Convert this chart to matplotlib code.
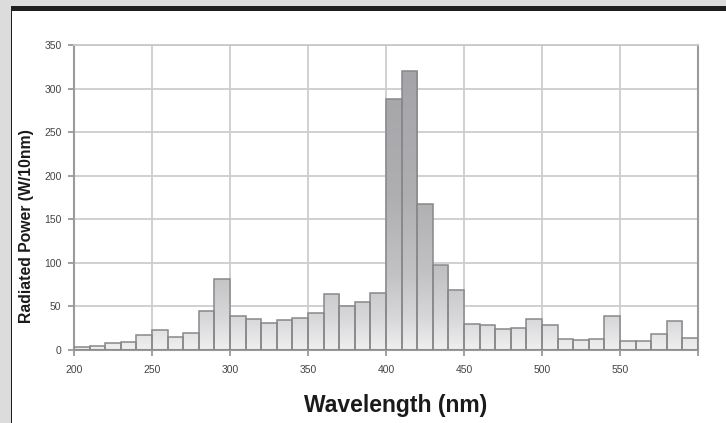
import numpy as np
import matplotlib
matplotlib.use("Agg")
import matplotlib.pyplot as plt
from matplotlib.patches import Rectangle
from matplotlib.colors import LinearSegmentedColormap

# ---- data ----
bin_start_nm = [200, 210, 220, 230, 240, 250, 260, 270, 280, 290,
                300, 310, 320, 330, 340, 350, 360, 370, 380, 390,
                400, 410, 420, 430, 440, 450, 460, 470, 480, 490,
                500, 510, 520, 530, 540, 550, 560, 570, 580, 590]
radiated_power = [3, 5, 8.4, 9.5, 17, 23, 15.3, 19, 45, 82,
                  39, 36, 30.6, 34.4, 36.3, 42, 64, 50.5, 54.7, 65.8,
                  288, 320, 168, 97.5, 69, 29.8, 28.3, 23.7, 24.9, 35.6,
                  28.3, 12.2, 11, 12.2, 39, 10, 10, 18, 33, 14]
x_ticks = [200, 250, 300, 350, 400, 450, 500, 550, 600]
x_tick_labels = ["200", "250", "300", "350", "400", "450", "500", "550", ""]
y_ticks = [0, 50, 100, 150, 200, 250, 300, 350]
x_label = "Wavelength (nm)"
y_label = "Radiated Power (W/10nm)"

plt.rcParams['font.family'] = ['Liberation Sans', 'DejaVu Sans']

W, H = 726, 423
fig = plt.figure(figsize=(W / 100, H / 100), dpi=100)
fig.patch.set_facecolor('white')

# page decorations (frame)
fig.patches.append(Rectangle((0, 0), 10.5 / W, 1, transform=fig.transFigure,
                             facecolor='#dcdcdc', edgecolor='none', zorder=0))
fig.patches.append(Rectangle((0, (H - 6) / H), 1, 6 / H, transform=fig.transFigure,
                             facecolor='#dcdcdc', edgecolor='none', zorder=0))
fig.patches.append(Rectangle((10.5 / W, (H - 11.5) / H), 1, 5.5 / H, transform=fig.transFigure,
                             facecolor='#1e1e1e', edgecolor='none', zorder=1))
fig.patches.append(Rectangle((10.5 / W, 0), 1.8 / W, (H - 6) / H, transform=fig.transFigure,
                             facecolor='#1e1e1e', edgecolor='none', zorder=1))

ax = fig.add_axes([74 / W, 73 / H, 624 / W, 305 / H])

bars = ax.bar(bin_start_nm, radiated_power, width=10, align='edge',
              facecolor='none', edgecolor='#88888a', linewidth=1.1, zorder=3)

cmap = LinearSegmentedColormap.from_list(
    'barfill', [(0.0, '#efeff0'), (0.1, '#d8d8da'), (0.25, '#c2c2c5'),
                (0.5, '#afafb2'), (1.0, '#a3a3a7')])
grad = np.linspace(0, 1, 256).reshape(-1, 1)
for b in bars:
    x0 = b.get_x()
    im = ax.imshow(grad, extent=(x0, x0 + b.get_width(), 0, 350), origin='lower',
                   aspect='auto', cmap=cmap, vmin=0, vmax=1, zorder=2,
                   interpolation='bilinear')
    im.set_clip_path(b)

ax.set_xlim(200, 600)
ax.set_ylim(0, 350)
ax.set_aspect('auto')
ax.set_xticks(x_ticks)
ax.set_xticklabels(x_tick_labels)
ax.set_yticks(y_ticks)

ax.set_axisbelow(True)
ax.grid(True, color='#cdcdcd', linewidth=1.3, zorder=0)

for s in ['left', 'right', 'bottom']:
    ax.spines[s].set_color('#9a9a9c')
    ax.spines[s].set_linewidth(1.5)
ax.spines['top'].set_color('#c8c8c8')
ax.spines['top'].set_linewidth(1.3)

ax.tick_params(axis='both', direction='out', length=4, width=1.3, color='#9a9a9c',
               labelsize=7.5, labelcolor='#444444')
ax.tick_params(axis='x', pad=7)
ax.tick_params(axis='y', pad=5)

fig.text(396 / W, 1 - 405 / H, x_label, ha='center', va='center',
         fontsize=16.5, fontweight='bold', color='#1a1a1a')
fig.text(27 / W, 1 - 226 / H, y_label, ha='center', va='center', rotation=90,
         fontsize=11.3, fontweight='bold', color='#1a1a1a')

fig.savefig('out.png', dpi=100)
